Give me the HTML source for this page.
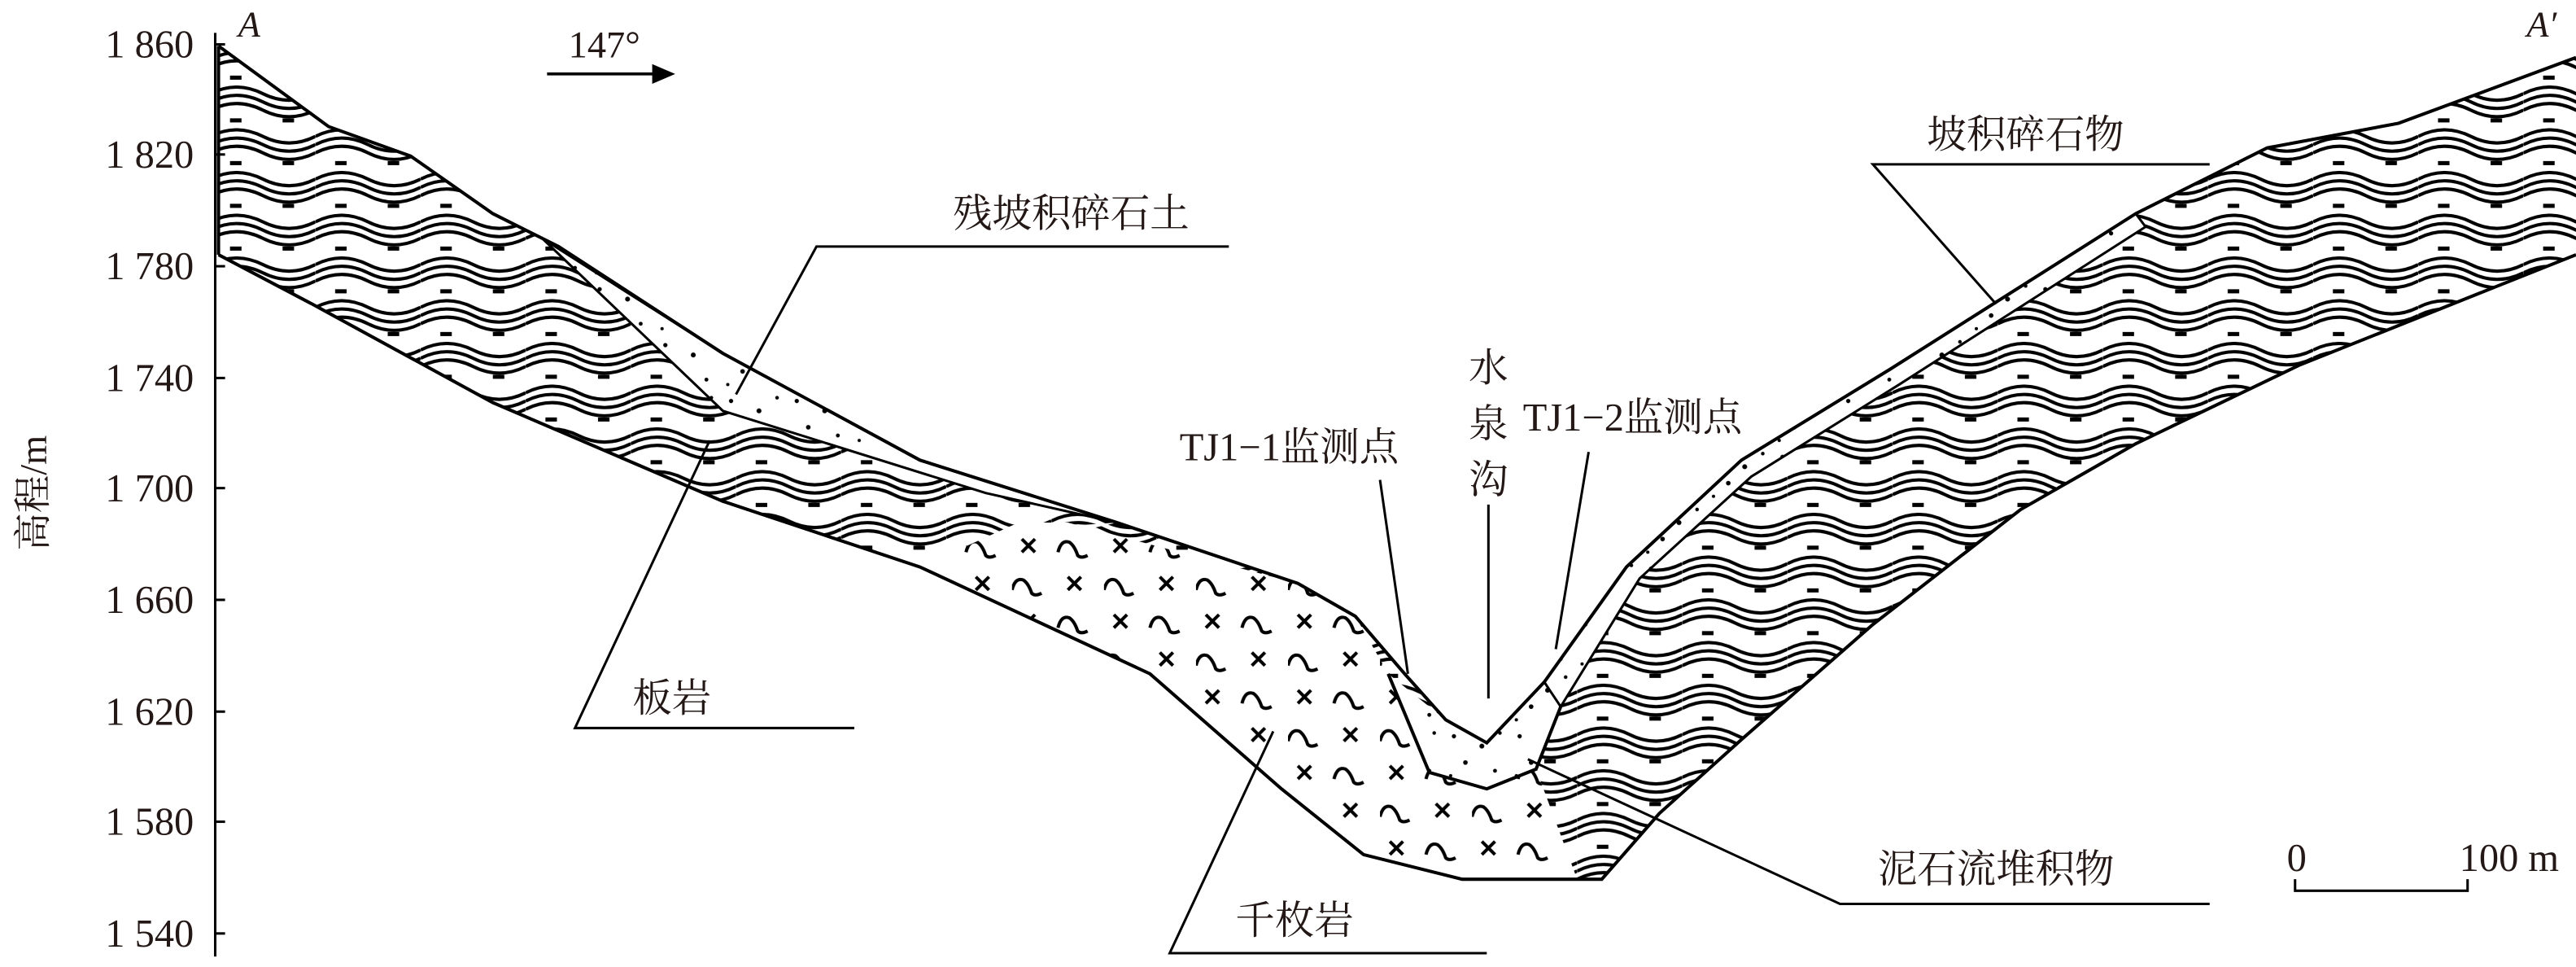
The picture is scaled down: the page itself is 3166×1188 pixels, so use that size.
<!DOCTYPE html>
<html><head><meta charset="utf-8">
<style>
html,body{margin:0;padding:0;background:#fff;}
svg{display:block;}
text{font-family:"Liberation Serif","Noto Serif CJK SC","Noto Sans CJK SC",serif;fill:#231815;}
</style></head>
<body>
<svg width="3166" height="1188" viewBox="0 0 1568 588.4" preserveAspectRatio="none" xmlns="http://www.w3.org/2000/svg">
<defs>
<pattern id="slate" width="64" height="26" patternUnits="userSpaceOnUse">
  <g fill="none" stroke="#000" stroke-width="2">
    <path d="M0 5 Q16 -3 32 5 T64 5"/>
    <path d="M0 10 Q16 2 32 10 T64 10"/>
    <path d="M0 15 Q16 7 32 15 T64 15"/>
  </g>
  <rect x="12" y="20" width="7" height="2.5" fill="#000"/>
  <rect x="44" y="20" width="7" height="2.5" fill="#000"/>
</pattern>
<pattern id="phyl" width="56" height="46" patternUnits="userSpaceOnUse">
  <g fill="none" stroke="#000" stroke-width="2">
    <path d="M6 6 L14 14 M14 6 L6 14"/>
    <path d="M28 14 Q30 6 35 8 Q38 10 40 16 Q42 18 46 16"/>
    <path d="M34 29 L42 37 M42 29 L34 37"/>
    <path d="M0 37 Q2 29 7 31 Q10 33 12 39 Q14 41 18 39"/>
  </g>
</pattern>
<pattern id="dots" width="40" height="34" patternUnits="userSpaceOnUse">
  <g fill="#000">
    <circle cx="5" cy="6" r="1.3"/><circle cx="22" cy="12" r="1.5"/><circle cx="33" cy="4" r="1.1"/>
    <circle cx="12" cy="22" r="1.4"/><circle cx="30" cy="27" r="1.2"/><circle cx="3" cy="30" r="1"/>
  </g>
</pattern>
</defs>

<line x1="131" y1="20" x2="131" y2="582" stroke="#000" stroke-width="1.5"/>
<g stroke="#000" stroke-width="1.5">
<line x1="131" y1="27" x2="137" y2="27"/><line x1="131" y1="94" x2="137" y2="94"/>
<line x1="131" y1="162" x2="137" y2="162"/><line x1="131" y1="230" x2="137" y2="230"/>
<line x1="131" y1="297" x2="137" y2="297"/><line x1="131" y1="365" x2="137" y2="365"/>
<line x1="131" y1="433" x2="137" y2="433"/><line x1="131" y1="500" x2="137" y2="500"/>
<line x1="131" y1="568" x2="137" y2="568"/>
</g>
<g font-size="24" text-anchor="end">
<text x="118" y="35">1 860</text><text x="118" y="102">1 820</text>
<text x="118" y="170">1 780</text><text x="118" y="238">1 740</text>
<text x="118" y="305">1 700</text><text x="118" y="373">1 660</text>
<text x="118" y="441">1 620</text><text x="118" y="508">1 580</text>
<text x="118" y="576">1 540</text>
</g>
<text font-size="23" transform="translate(28,300) rotate(-90)" text-anchor="middle">高程/m</text>

<text x="145" y="22" font-size="22" font-style="italic">A</text>
<text x="1538" y="22" font-size="22" font-style="italic">A′</text>
<text x="346" y="35" font-size="23">147°</text>
<line x1="333" y1="45" x2="400" y2="45" stroke="#000" stroke-width="1.8"/>
<polygon points="411,45 397,39 397,51" fill="#000"/>

<path d="M133 28 L200 77 L250 95 L300 130 L340 150 L440 215 L560 280 L680 318 L650 320 L700 410 L780 480 L830 520 L890 535 L975 535 L1010 495 L1060 450 L1140 380 L1230 310 L1300 270 L1400 222 L1568 155 L1568 35 L1460 75 L1380 90 L1300 130 L1150 225 L1060 280 L990 345 L940 415 L905 452 L880 438 L855 410 L825 375 L790 355 L680 318 L560 345 L440 305 L300 245 L190 185 L133 155 Z" fill="url(#slate)" stroke="none"/>
<path d="M650 318 L790 355 L825 375 L845 410 L870 470 L905 480 L935 468 L960 535 L890 535 L830 520 L780 480 L700 410 L560 345 L620 318 Z" fill="#fff"/>
<path d="M650 318 L790 355 L825 375 L845 410 L870 470 L905 480 L935 468 L960 535 L890 535 L830 520 L780 480 L700 410 L560 345 L620 318 Z" fill="url(#phyl)"/>
<path d="M845 410 L880 438 L905 452 L940 415 L950 430 L935 468 L905 480 L870 470 Z" fill="#fff"/>
<path d="M845 410 L880 438 L905 452 L940 415 L950 430 L935 468 L905 480 L870 470 Z" fill="url(#dots)"/>
<path d="M330 145 L440 215 L560 280 L680 318 L600 300 L440 250 Z" fill="#fff"/>
<path d="M330 145 L440 215 L560 280 L680 318 L600 300 L440 250 Z" fill="url(#dots)" stroke="#000" stroke-width="1.5"/>
<path d="M940 415 L990 345 L1060 280 L1150 225 L1300 130 L1306 138 L1156 234 L1066 290 L998 352 L950 430 Z" fill="#fff" stroke="#000" stroke-width="1.5"/>
<path d="M940 415 L990 345 L1060 280 L1150 225 L1300 130 L1306 138 L1156 234 L1066 290 L998 352 L950 430 Z" fill="url(#dots)"/>

<g fill="none" stroke="#000" stroke-width="2">
<path d="M133 28 L200 77 L250 95 L300 130 L340 150 L440 215 L560 280 L680 318 L790 355 L825 375 L855 410 L880 438 L905 452 L940 415 L990 345 L1060 280 L1150 225 L1300 130 L1380 90 L1460 75 L1568 35"/>
<path d="M133 155 L190 185 L300 245 L440 305 L560 345 L700 410 L780 480 L830 520 L890 535 L975 535 L1010 495 L1060 450 L1140 380 L1230 310 L1300 270 L1400 222 L1568 155"/>
<path d="M133 28 L133 155"/>
<path d="M845 410 L870 470 L905 480 L935 468 L950 430"/>
</g>

<g fill="none" stroke="#000" stroke-width="1.5">
<polyline points="448,240 497,150 748,150"/>
<polyline points="432,268 350,443 520,443"/>
<polyline points="775,445 712,580 905,580"/>
<line x1="840" y1="292" x2="857" y2="410"/>
<line x1="906" y1="307" x2="906" y2="425"/>
<line x1="967" y1="275" x2="947" y2="395"/>
<polyline points="1215,185 1140,100 1345,100"/>
<polyline points="930,462 1120,550 1345,550"/>
</g>

<g font-size="24">
<text x="580" y="138">残坡积碎石土</text>
<text x="385" y="433">板岩</text>
<text x="752" y="568">千枚岩</text>
<text x="718" y="280">TJ1−1监测点</text>
<text x="894" y="232">水</text><text x="894" y="266">泉</text><text x="894" y="300">沟</text>
<text x="927" y="262">TJ1−2监测点</text>
<text x="1173" y="90">坡积碎石物</text>
<text x="1143" y="537">泥石流堆积物</text>
<text x="1392" y="530">0</text>
<text x="1497" y="530">100 m</text>
</g>
<polyline points="1397,535 1397,542 1502,542 1502,535" fill="none" stroke="#000" stroke-width="1.5"/>
</svg>
</body></html>
